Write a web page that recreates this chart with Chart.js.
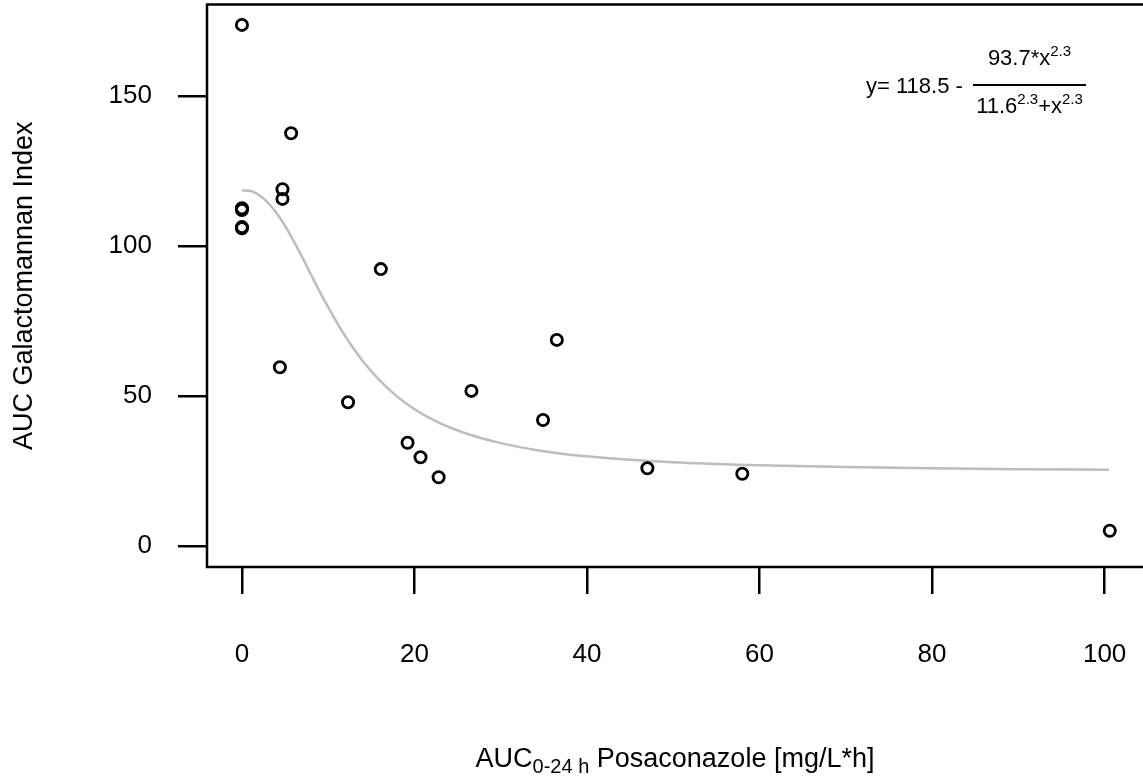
<!DOCTYPE html>
<html>
<head>
<meta charset="utf-8">
<script src="https://cdn.jsdelivr.net/npm/chart.js@4.4.0/dist/chart.umd.min.js"></script>
<style>
body { margin: 0; background: #fff; }
canvas { display: block; }
</style>
</head>
<body>
<canvas id="myChart" width="1143" height="782"></canvas>
<script>
// observed points: AUC posaconazole vs AUC galactomannan
const aucPosa = [0, 0, 0, 0, 0, 4.4, 4.7, 4.7, 5.7, 12.3, 16.1, 19.2, 20.7, 22.8, 26.6, 34.9, 36.5, 47.0, 58.0, 100.6];
const aucGM = [173.7, 112.0, 112.6, 105.9, 106.3, 59.6, 118.9, 115.7, 137.6, 47.9, 92.3, 34.4, 29.6, 22.9, 51.7, 42.0, 68.7, 25.9, 24.1, 5.1];

// grey fitted curve
const fitX = [0, 1, 2, 3, 4, 5, 6, 7, 8, 9, 10, 12, 14, 16, 18, 20, 23, 26, 30, 35, 40, 50, 60, 70, 80, 90, 100.5];
const fitY = [118.5, 118.3, 116.9, 114.5, 111.0, 106.7, 101.6, 96.2, 90.5, 84.9, 79.6, 69.8, 61.7, 55.1, 49.8, 45.6, 40.9, 37.5, 34.3, 31.6, 29.9, 27.9, 26.9, 26.3, 25.9, 25.6, 25.45];

const xTicks = [0, 20, 40, 60, 80, 100];
const yTicks = [0, 50, 100, 150];

const FONT = 'Liberation Sans, Arial, Helvetica, sans-serif';
Chart.defaults.font.family = FONT;
Chart.defaults.color = '#000';

//box around plot + equation + x title with subscript
const extras = {
    id: 'extras',
    afterDraw(chart) {
        const c = chart.ctx;
        const a = chart.chartArea;
        c.save();
        c.strokeStyle = '#000';
        c.lineWidth = 2.5;
        c.strokeRect(a.left, a.top, a.right - a.left + 2, a.bottom - a.top);

        c.fillStyle = '#000';
        c.textBaseline = 'alphabetic';
        c.textAlign = 'left';

        // x axis title
        const big = '27px ' + FONT, sub = '20px ' + FONT;
        c.font = big; const w1 = c.measureText('AUC').width;
        c.font = sub; const w2 = c.measureText('0-24 h').width;
        c.font = big; const w3 = c.measureText(' Posaconazole [mg/L*h]').width;
        let x = (a.left + a.right) / 2 - (w1 + w2 + w3) / 2;
        const by = 767;
        c.font = big; c.fillText('AUC', x, by); x += w1;
        c.font = sub; c.fillText('0-24 h', x, by + 6); x += w2;
        c.font = big; c.fillText(' Posaconazole [mg/L*h]', x, by);

        // equation
        const ef = '22px ' + FONT, sf = '15px ' + FONT;
        c.font = ef;
        c.fillText('y= 118.5 -', 866, 93);
        const fx0 = 973, fx1 = 1086, fy = 85;
        c.lineWidth = 2;
        c.beginPath(); c.moveTo(fx0, fy); c.lineTo(fx1, fy); c.stroke();
        const cx = (fx0 + fx1) / 2;
        // numerator
        c.font = ef; const n1 = c.measureText('93.7*x').width;
        c.font = sf; const n2 = c.measureText('2.3').width;
        let nx = cx - (n1 + n2) / 2;
        c.font = ef; c.fillText('93.7*x', nx, 65); nx += n1;
        c.font = sf; c.fillText('2.3', nx, 56);
        // denominator
        c.font = ef; const d1 = c.measureText('11.6').width, d3 = c.measureText('+x').width;
        c.font = sf; const d2 = c.measureText('2.3').width;
        let dx = cx - (d1 + d2 + d3 + d2) / 2;
        c.font = ef; c.fillText('11.6', dx, 113); dx += d1;
        c.font = sf; c.fillText('2.3', dx, 104); dx += d2;
        c.font = ef; c.fillText('+x', dx, 113); dx += d3;
        c.font = sf; c.fillText('2.3', dx, 104);
        c.restore();
    }
};

const ctx = document.getElementById('myChart');
const myChart = new Chart(ctx, {
    type: 'scatter',
    data: {
        datasets: [{
            label: 'observed',
            data: aucPosa.map((v, i) => ({x: v, y: aucGM[i]})),
            pointRadius: 5.6,
            pointBorderWidth: 2.8,
            pointBorderColor: '#000',
            pointBackgroundColor: 'rgba(0,0,0,0)',
            showLine: false
        }, {
            label: 'fit',
            type: 'line',
            data: fitX.map((v, i) => ({x: v, y: fitY[i]})),
            borderColor: '#bdbdbd',
            borderWidth: 2.5,
            pointRadius: 0,
            cubicInterpolationMode: 'monotone',
            fill: false
        }]
    },
    options: {
        responsive: false,
        animation: false,
        layout: { autoPadding: false, padding: { top: 4.5, right: 0, left: 0, bottom: 0 } },
        plugins: { legend: { display: false }, tooltip: { enabled: false } },
        scales: {
            x: {
                type: 'linear',
                min: -4.05,
                max: 104.45,
                afterFit: (s) => { s.height = 215; s.paddingLeft = 0; s.paddingRight = 0; },
                afterBuildTicks: (s) => { s.ticks = xTicks.map(v => ({value: v})); },
                grid: { drawOnChartArea: false, drawTicks: true, tickLength: 27, color: '#000', lineWidth: 2.5 },
                border: { display: false },
                ticks: { font: { size: 26 }, padding: 45, maxRotation: 0 }
            },
            y: {
                type: 'linear',
                min: -7,
                max: 180.5,
                afterFit: (s) => { s.width = 207; s.paddingTop = 0; s.paddingBottom = 0; },
                afterBuildTicks: (s) => { s.ticks = yTicks.map(v => ({value: v})); },
                grid: { drawOnChartArea: false, drawTicks: true, tickLength: 29, color: '#000', lineWidth: 2.5 },
                border: { display: false },
                ticks: { font: { size: 26 }, padding: 26 },
                title: { display: true, text: 'AUC Galactomannan Index', font: { size: 27 }, padding: { top: 8, bottom: 0 } }
            }
        }
    },
    plugins: [extras]
});
</script>
</body>
</html>
